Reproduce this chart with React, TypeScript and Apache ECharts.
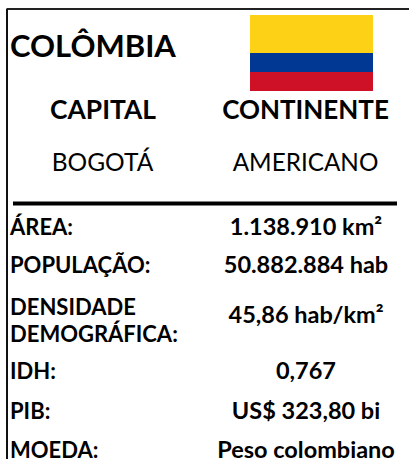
import React, { useEffect, useRef } from "react";
import * as echarts from "echarts";

const title = "COLÔMBIA";
const headers = ["CAPITAL", "CONTINENTE"];
const headerValues = ["BOGOTÁ", "AMERICANO"];
const rowLabels = ["ÁREA:", "POPULAÇÃO:", "DENSIDADE\nDEMOGRÁFICA:", "IDH:", "PIB:", "MOEDA:"];
const rowValues = ["1.138.910 km²", "50.882.884 hab", "45,86 hab/km²", "0,767", "US$ 323,80 bi", "Peso colombiano"];
const rowY = [226, 264, 319.5, 370, 410, 449];
const valueY = [226, 264, 314, 370, 410, 449];
const flagColors = ["#FDD116", "#003893", "#CE1126"];
const flagBands = [[15, 38], [53, 19], [72, 19]];
const FONT = "Lato, sans-serif";

export default function App() {
  const ref = useRef<HTMLDivElement>(null);
  useEffect(() => {
    document.body.style.margin = "0";
    const chart = echarts.init(ref.current!, undefined, { renderer: "svg" });
    const text = (t: string, x: number, y: number, size: number, weight: string | number, align: string, lineHeight?: number) => ({
      type: "text", x, y, silent: true,
      style: { text: t, fill: "#000", font: `${weight} ${size}px ${FONT}`, fontFamily: FONT, fontSize: size, fontWeight: weight, align, verticalAlign: "middle", lineHeight },
    });
    const elements: any[] = [
      { type: "rect", shape: { x: 0, y: 0, width: 409, height: 459 }, style: { fill: "#fff" } },
      { type: "line", shape: { x1: 6.5, y1: 9, x2: 409, y2: 9 }, style: { stroke: "#222", lineWidth: 2 } },
      { type: "line", shape: { x1: 7, y1: 9, x2: 7, y2: 459 }, style: { stroke: "#111", lineWidth: 2 } },
      { type: "line", shape: { x1: 13, y1: 203.5, x2: 397, y2: 203.5 }, style: { stroke: "#000", lineWidth: 4 } },
      ...flagColors.map((c, i) => ({ type: "rect", shape: { x: 250, y: flagBands[i][0], width: 123, height: flagBands[i][1] }, style: { fill: c } })),
      text(title, 10, 44.5, 31, "bold", "left"),
      text(headers[0], 103, 109, 26.4, "bold", "center"),
      text(headers[1], 305.5, 109, 26, "bold", "center"),
      text(headerValues[0], 102.5, 161, 24.5, "normal", "center"),
      text(headerValues[1], 305.5, 161, 24.3, "normal", "center"),
    ];
    rowLabels.forEach((l, i) => elements.push(text(l, 10, rowY[i], 22, "bold", "left", l.includes("\n") ? 27 : 18)));
    rowValues.forEach((v, i) => elements.push(text(v, 306, valueY[i], 23.5, "bold", "center", 18)));
    chart.setOption({ animation: false, graphic: { elements } });
    return () => chart.dispose();
  }, []);
  return <div ref={ref} style={{ width: 409, height: 459 }} />;
}
